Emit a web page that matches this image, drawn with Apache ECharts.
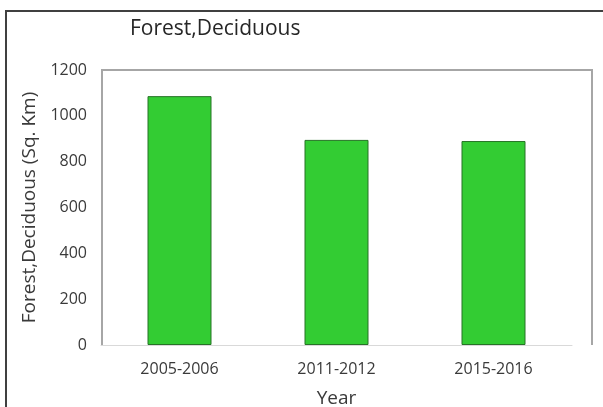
<!DOCTYPE html>
<html>
<head>
<meta charset="utf-8">
<script src="https://cdn.jsdelivr.net/npm/echarts@6/dist/echarts.min.js"></script>
<style>
  html, body { margin: 0; padding: 0; background: #fff; }
  #chart { width: 603px; height: 407px; }
</style>
</head>
<body>
<div id="chart"></div>
<script>
const years = ['2005-2006', '2011-2012', '2015-2016'];
const area = [1086, 895, 890];
const yTicks = [0, 1200, 200]; // min, max, step

const myChart = echarts.init(document.getElementById('chart'));
const font = '"Open Sans", "Liberation Sans", sans-serif';

myChart.setOption({
  animation: false,
  backgroundColor: '#fff',
  title: {
    text: 'Forest,Deciduous',
    left: 125,
    top: 14,
    textStyle: { fontFamily: font, fontSize: 21, fontWeight: 'normal', color: '#262626' }
  },
  grid: { left: 101, top: 70, right: 31, bottom: 62, outerBoundsMode: 'none' },
  xAxis: {
    type: 'category',
    data: years,
    name: 'Year',
    nameLocation: 'middle',
    nameGap: 44,
    nameTextStyle: { fontFamily: font, fontSize: 19, color: '#3a3a3a' },
    axisLine: { lineStyle: { color: '#d9d9d9', width: 1 } },
    axisTick: { show: false },
    axisLabel: { fontFamily: font, fontSize: 16, color: '#3a3a3a', margin: 16 }
  },
  yAxis: {
    type: 'value',
    min: yTicks[0],
    max: yTicks[1],
    interval: yTicks[2],
    name: 'Forest,Deciduous (Sq. Km)',
    nameLocation: 'middle',
    nameGap: 59,
    nameTextStyle: { fontFamily: font, fontSize: 19, color: '#3a3a3a' },
    axisLine: { show: false },
    axisTick: { show: false },
    splitLine: { show: false },
    axisLabel: { fontFamily: font, fontSize: 16, color: '#3a3a3a', margin: 14, formatter: v => String(v) }
  },
  series: [{
    type: 'bar',
    data: area,
    barWidth: 64,
    itemStyle: { color: '#33cc33', borderColor: '#267326', borderWidth: 1 }
  }],
  graphic: [
    {
      type: 'polyline',
      silent: true,
      shape: { points: [[102, 345], [102, 70], [592, 70], [592, 345]] },
      style: { stroke: '#a6a6a6', lineWidth: 2, fill: null }
    },
    {
      type: 'rect',
      silent: true,
      shape: { x: 6, y: 11, width: 640, height: 440 },
      style: { stroke: '#404040', lineWidth: 2, fill: null }
    }
  ]
});
</script>
</body>
</html>
